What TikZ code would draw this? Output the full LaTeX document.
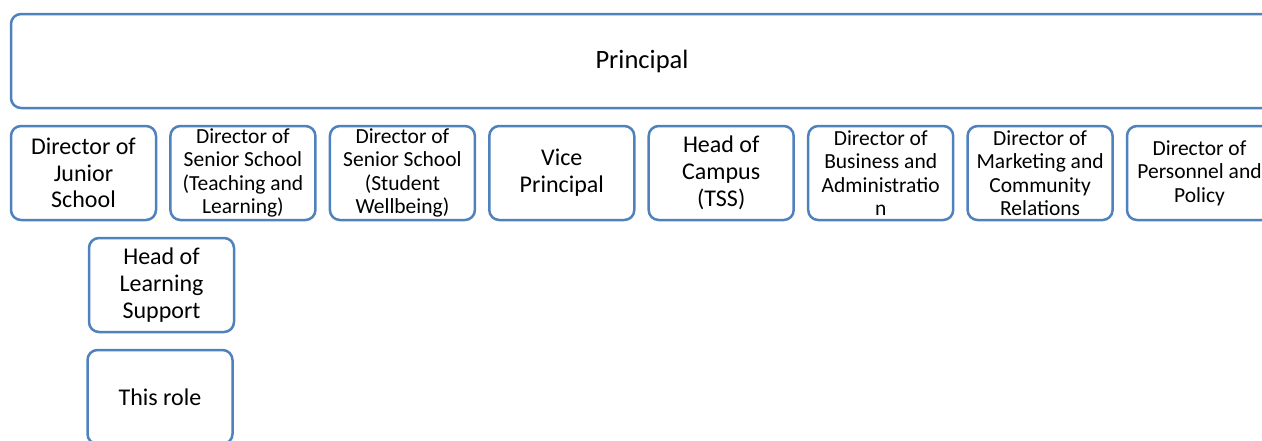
\documentclass[tikz,border=0pt]{standalone}
\usepackage{fontspec}
\setmainfont{Carlito}
\definecolor{bord}{RGB}{79,129,189}
\begin{document}
\begin{tikzpicture}[x=1pt,y=-1pt,
  box/.style={draw=bord, line width=2.5pt, rounded corners=10pt, fill=white,
    minimum width=145pt, minimum height=94pt, inner sep=0pt, align=center, text=black},
  toptxt/.style={font=\fontsize{26.5}{30}\selectfont},
  bigtxt/.style={font=\fontsize{24}{26.7}\selectfont},
  smalltxt/.style={font=\fontsize{21.5}{23.4}\selectfont}]
\useasboundingbox (0,0) rectangle (1262,440);
\clip (0,0) rectangle (1262,440);
\node[box, toptxt, minimum width=1262pt] (principal) at (642,61) {Principal};
\node[box, bigtxt] (djs) at (83.5,173) {Director of\\Junior\\School};
\node[box, smalltxt] (dsstl) at (242.9,173) {Director of\\Senior School\\(Teaching and\\Learning)};
\node[box, smalltxt] (dsssw) at (402.4,173) {Director of\\Senior School\\(Student\\Wellbeing)};
\node[box, bigtxt] (vp) at (561.8,173) {Vice\\Principal};
\node[box, bigtxt] (hoc) at (721.2,173) {Head of\\Campus\\(TSS)};
\node[box, smalltxt] (dba) at (880.7,173) {Director of\\Business and\\Administratio\\n};
\node[box, smalltxt] (dmcr) at (1040.1,173) {Director of\\Marketing and\\Community\\Relations};
\node[box, smalltxt] (dpp) at (1199.5,173) {Director of\\Personnel and\\Policy};
\node[box, bigtxt] (hls) at (161.5,285) {Head of\\Learning\\Support};
\node[box, bigtxt] (role) at (160,397) {This role};
\end{tikzpicture}
\end{document}
